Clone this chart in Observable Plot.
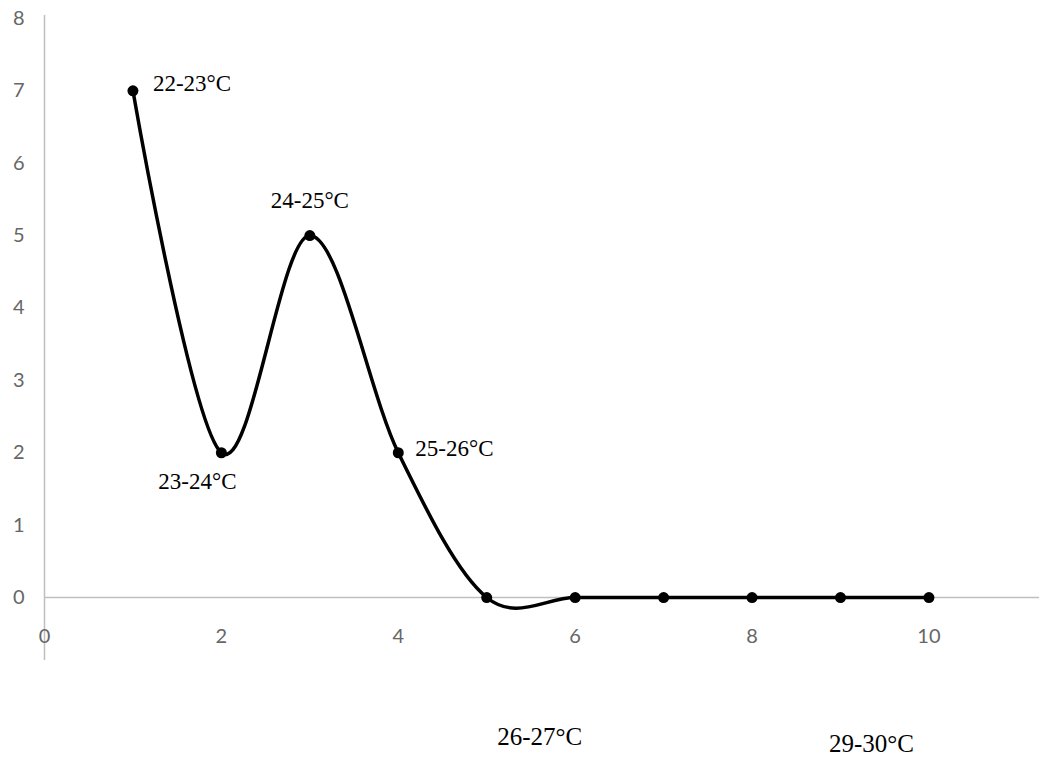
<!DOCTYPE html>
<html>
<head>
<meta charset="utf-8">
<script src="https://cdn.jsdelivr.net/npm/d3@7"></script>
<script src="https://cdn.jsdelivr.net/npm/@observablehq/plot@0.6"></script>
<style>
  html, body { margin: 0; padding: 0; background: #fff; }
  #chart svg { display: block; }
</style>
</head>
<body>
<div id="chart"></div>
<script>
// Data
const xValues = [1, 2, 3, 4, 5, 6, 7, 8, 9, 10];
const yValues = [7, 2, 5, 2, 0, 0, 0, 0, 0, 0];
const xTicks = [0, 2, 4, 6, 8, 10];
const yTicks = [0, 1, 2, 3, 4, 5, 6, 7, 8];
// point labels: index of the point they annotate
const pointLabels = ["22-23°C", "23-24°C", "24-25°C", "25-26°C"];
const pointLabelIndex = [0, 1, 2, 3];
// labels that sit below the chart (data coordinates)
const looseLabels = ["26-27°C", "29-30°C"];
const looseX = [5.6, 9.35];
const looseY = [-1.93, -2.03];

const points = xValues.map((x, i) => ({x, y: yValues[i]}));
const labelOffsets = [
  {dx: 20, dy: -7, anchor: "start"},
  {dx: -24, dy: 29, anchor: "middle"},
  {dx: 0, dy: -35, anchor: "middle"},
  {dx: 17, dy: -4, anchor: "start"}
];
const labelRows = pointLabels.map((t, i) => ({
  text: t, ...points[pointLabelIndex[i]], ...labelOffsets[i]
}));
const looseRows = looseLabels.map((t, i) => ({text: t, x: looseX[i], y: looseY[i]}));

const chart = Plot.plot({
  width: 1039,
  height: 760,
  marginLeft: 44,
  marginRight: 0,
  marginTop: 15,
  marginBottom: 100,
  x: {domain: [0, 11.25], axis: null},
  y: {domain: [-0.87, 8.04], axis: null},
  style: {background: "#fff"},
  marks: [
    Plot.ruleX([0], {stroke: "#bfbfbf", strokeWidth: 1.5}),
    Plot.ruleY([0], {stroke: "#bfbfbf", strokeWidth: 1.5}),
    Plot.text(yTicks, {x: 0, y: d => d, dx: -20, text: d => String(d), textAnchor: "end", fontSize: 20, fontFamily: "Lato", fill: "#666"}),
    Plot.text(xTicks, {x: d => d, y: 0, dy: 39, text: d => String(d), fontSize: 20, fontFamily: "Lato", fill: "#666"}),
    Plot.line(points, {x: "x", y: "y", curve: "cardinal", tension: 0, stroke: "#000", strokeWidth: 3.5}),
    Plot.dot(points, {x: "x", y: "y", r: 5.5, fill: "#000"}),
    ...labelRows.map(d => Plot.text([d], {x: "x", y: "y", text: "text", dx: d.dx, dy: d.dy, textAnchor: d.anchor, fontSize: 23, fontFamily: "Liberation Serif", fill: "#000"})),
    Plot.text(looseRows, {x: "x", y: "y", text: "text", fontSize: 25, fontFamily: "Liberation Serif", fill: "#000"})
  ]
});
document.getElementById("chart").appendChild(chart);
</script>
</body>
</html>
